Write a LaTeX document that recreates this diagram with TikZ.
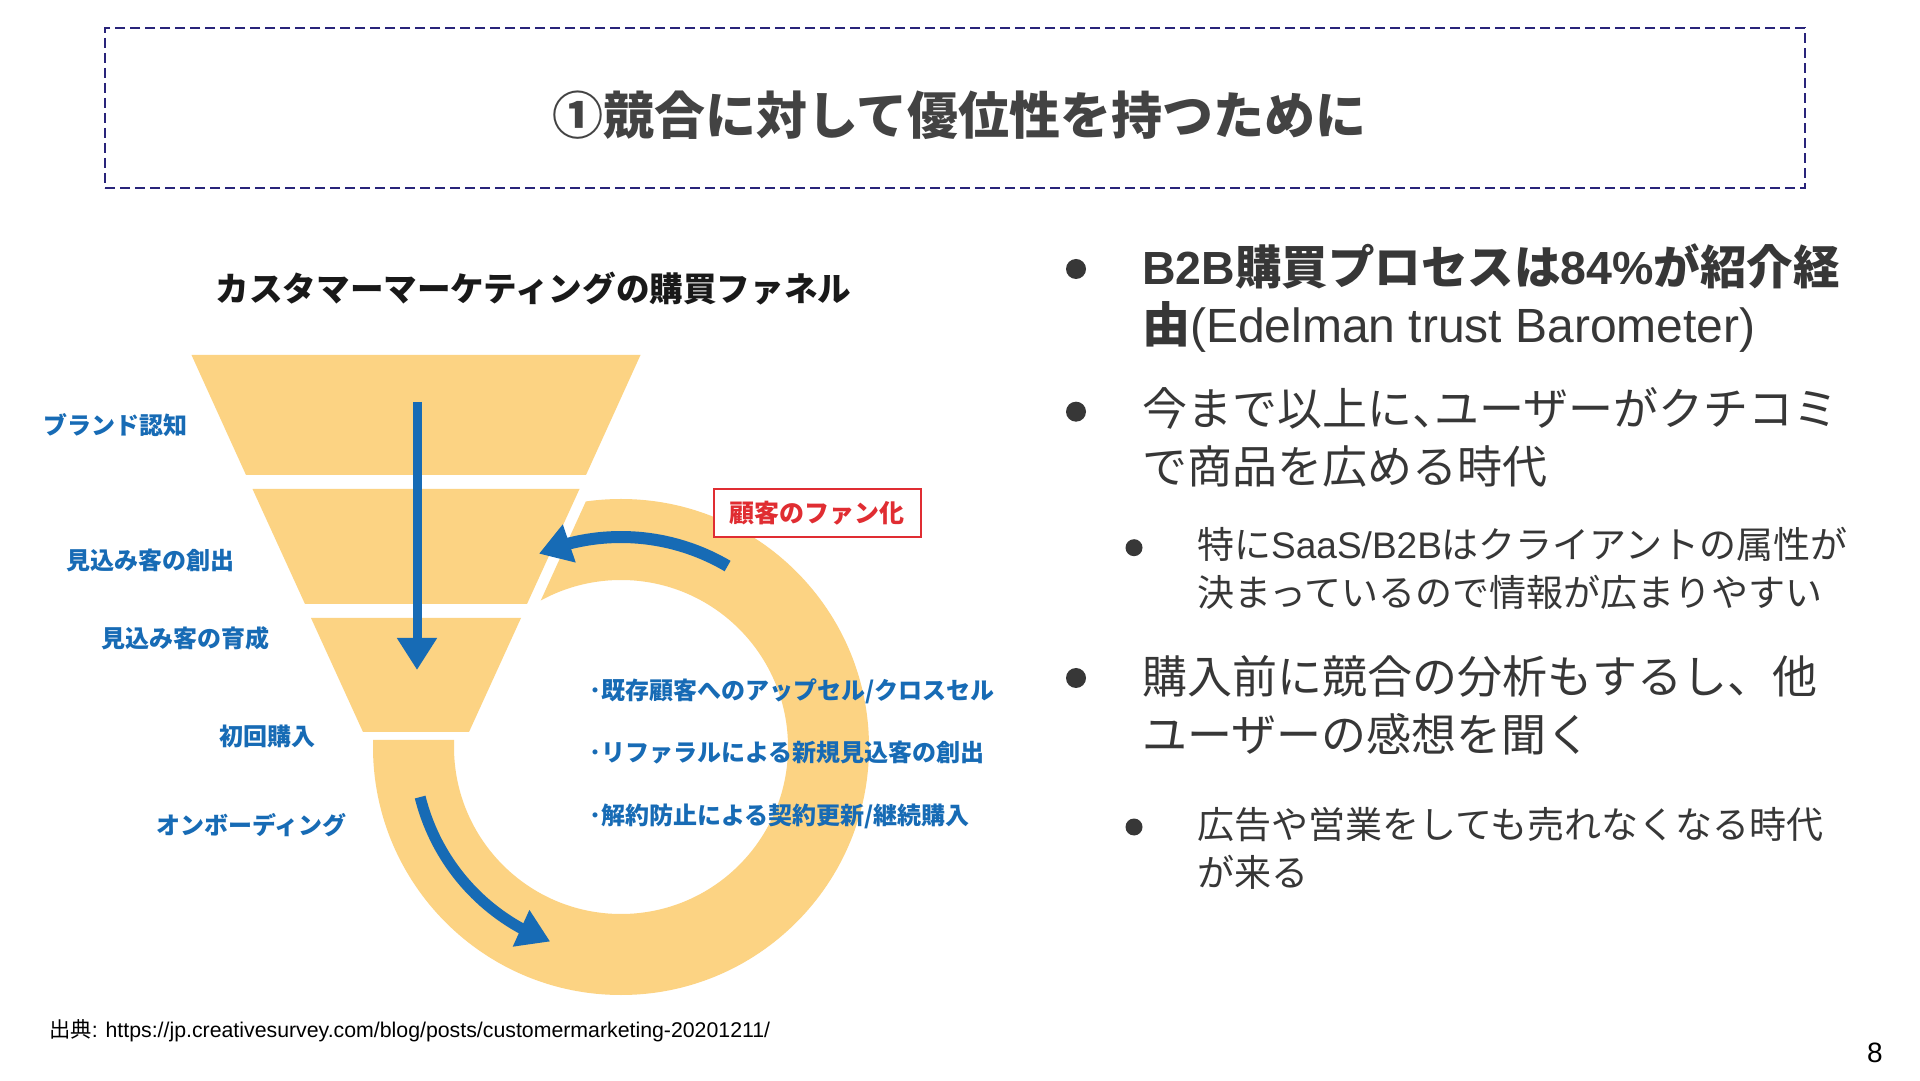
\documentclass[tikz,border=0pt]{standalone}
\usepackage{fontspec}
\setmainfont{Liberation Sans}
\newfontfamily\jp{Noto Sans CJK JP}
\newfontfamily\jphalt[RawFeature=+halt]{Noto Sans CJK JP}
\usetikzlibrary{arrows.meta,bending,calc}

\definecolor{funnel}{RGB}{252,211,131}
\definecolor{funblue}{RGB}{23,107,181}
\definecolor{funred}{RGB}{224,45,50}
\definecolor{navy}{RGB}{41,36,122}
\definecolor{bodygray}{RGB}{55,55,55}
\definecolor{titlegray}{RGB}{67,67,67}

\newcommand{\ja}[1]{{\jp #1}}

\begin{document}
\begin{tikzpicture}[x=1pt, y=1pt,
    band/.style={fill=funnel},
    flow/.style={draw=funblue, -{Triangle[width=38pt,length=32pt]}},
    stage/.style={font=\fontsize{24}{28}\selectfont\jp\bfseries, text=funblue, inner sep=0pt},
    point/.style={stage, anchor=west},
    fanbox/.style={draw=funred, line width=2pt, fill=white, minimum width=207pt,
        minimum height=48pt, inner sep=0pt, text=funred,
        font=\fontsize{25}{28}\selectfont\jp\bfseries},
    titlebox/.style={draw=navy, line width=2pt, dash pattern=on 10pt off 5pt,
        minimum width=1700pt, minimum height=160pt, inner sep=0pt},
    bigdot/.style={circle, fill=bodygray, minimum size=20pt, inner sep=0pt},
    smalldot/.style={circle, fill=bodygray, minimum size=17pt, inner sep=0pt},
    mainitem/.style={anchor=base west, inner sep=0pt, align=left, text=bodygray,
        font=\fontsize{45}{58}\selectfont},
    subitem/.style={anchor=base west, inner sep=0pt, align=left, text=bodygray,
        font=\fontsize{37}{48}\selectfont}]
    \fill[white] (0,0) rectangle (1920,1080);
    \useasboundingbox (0,0) rectangle (1920,1080);

    % title
    \node[titlebox] (tbox) at (955,972) {};
    \node[text=titlegray, font=\fontsize{51}{56}\selectfont\jp\bfseries, inner sep=0pt]
        (title) at (959.5,965) {①競合に対して優位性を持つために};

    % funnel
    \node[font=\fontsize{33.6}{38}\selectfont\jp\bfseries, text=black!90, inner sep=0pt]
        (ftitle) at (533.5,791) {カスタマーマーケティングの購買ファネル};
    \fill[band] (191.5,725) -- (640.5,725) -- (586,605) -- (246,605) -- cycle;
    \fill[band] (252.5,591) -- (579.5,591) -- (527,476) -- (305,476) -- cycle;
    \fill[band] (311,462) -- (521,462) -- (469,348) -- (363,348) -- cycle;

    % ring
    \coordinate (ringc) at (621,333);
    \begin{scope}
        \clip (300,340) -- (477.3,340) -- (632,680) -- (1000,680) -- (1000,0) -- (300,0) -- cycle;
        \fill[band, even odd rule] (ringc) circle[radius=248] (ringc) circle[radius=167];
    \end{scope}

    % arrows
    \coordinate (downtop) at (417,678);
    \coordinate (downtip) at (417,410);
    \draw[flow, line width=9pt] (downtop) -- (downtip);
    \draw[flow, line width=12pt] ($(ringc)+(59.5:210)$) arc[start angle=59.5, end angle=113, radius=210];
    \draw[flow, line width=11pt] ($(ringc)+(194:207)$) arc[start angle=194, end angle=250, radius=207];

    % stages
    \node[stage] (brand) at (115,655) {ブランド認知};
    \node[stage] (create) at (150,520) {見込み客の創出};
    \node[stage] (nurture) at (185,442) {見込み客の育成};
    \node[stage] (first) at (267,344) {初回購入};
    \node[stage] (onboard) at (251.5,255) {オンボーディング};

    \node[fanbox] (fan) at (817,566.5) {顧客のファン化};
    \node[point] (upsell) at (589,388.4) {･既存顧客へのアップセル/クロスセル};
    \node[point] (refer) at (589,327) {･リファラルによる新規見込客の創出};
    \node[point] (renew) at (589,264) {･解約防止による契約更新/継続購入};

    % source and page
    \node[anchor=west, inner sep=0pt, font=\fontsize{21.3}{24}\selectfont]
        (source) at (49,49) {\ja{出典}: https://jp.creativesurvey.com/blog/posts/customermarketing-20201211/};
    \node[inner sep=0pt, font=\fontsize{28}{32}\selectfont] (page) at (1875,27.5) {8};

    % bullets
    \node[bigdot] (d1) at (1076,811) {};
    \node[mainitem] (b1) at (1142,737) {\fontsize{46.5}{58}\selectfont\bfseries B2B\ja{購買プロセスは}84\%\ja{が紹介経}\\
        \fontsize{48}{58}\selectfont{\bfseries\ja{由}}(Edelman trust Barometer)};
    \node[bigdot] (d2) at (1076,668.3) {};
    \node[mainitem] (b2) at (1142,596) {\ja{今まで以上に}{\jphalt 、}\ja{ユーザーがクチコミ}\\\ja{で商品を広める時代}};
    \node[smalldot] (d3) at (1134,532.3) {};
    \node[subitem] (s1) at (1197,473) {\ja{特に}SaaS/B2B\ja{はクライアントの属性が}\\\ja{決まっているので情報が広まりやすい}};
    \node[bigdot] (d4) at (1076,402) {};
    \node[mainitem] (b3) at (1142,328) {\ja{購入前に競合の分析もするし、他}\\\ja{ユーザーの感想を聞く}};
    \node[smalldot] (d5) at (1134,253) {};
    \node[subitem] (s2) at (1197,193.4) {\ja{広告や営業をしても売れなくなる時代}\\\ja{が来る}};
\end{tikzpicture}
\end{document}
